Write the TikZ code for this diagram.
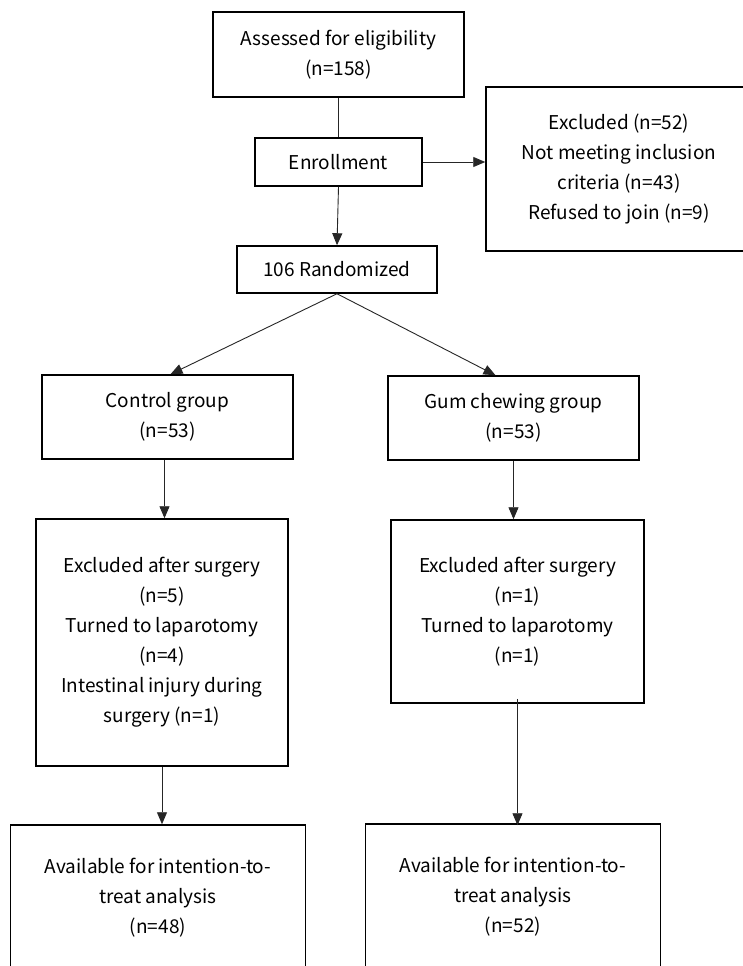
\documentclass[tikz,border=0pt]{standalone}
\usepackage{fontspec}
\setmainfont{Noto Sans CJK JP}
\usetikzlibrary{arrows.meta,calc}
\tikzset{
  box/.style={draw=black, line width=1.5pt, align=center, inner sep=2pt,
    font=\fontsize{19}{30}\selectfont},
  conn/.style={draw=black!85, line width=0.9pt},
  arr/.style={conn, -{Triangle[length=12pt,width=10pt]}}
}
\begin{document}
\begin{tikzpicture}[x=1pt,y=-1pt]
\useasboundingbox (0,0) rectangle (743,966);
\clip (0,0) rectangle (743,966);
\fill[white] (0,0) rectangle (743,966);

\node[box, minimum width=251pt, minimum height=85pt] (ass) at (338.5,54.5)
  {Assessed for eligibility\\(n=158)};
\node[box, minimum width=167pt, minimum height=48pt] (enr) at (338.5,162)
  {Enrollment};
\node[box, minimum width=266pt, minimum height=164pt] (exc) at (619,169)
  {Excluded (n=52)\\Not meeting inclusion\\criteria (n=43)\\Refused to join (n=9)};
\node[box, minimum width=200pt, minimum height=47pt] (rnd) at (337,269.5)
  {106 Randomized};

\node[box, minimum width=251pt, minimum height=84pt] (ctl) at (167.5,417)
  {Control group\\(n=53)};
\node[box, minimum width=251pt, minimum height=84pt] (gum) at (513.5,418)
  {Gum chewing group\\(n=53)};

\node[box, minimum width=252pt, minimum height=247pt] (exl) at (162,642.5)
  {Excluded after surgery\\(n=5)\\Turned to laparotomy\\(n=4)\\Intestinal injury during\\surgery (n=1)};
\node[box, minimum width=253pt, minimum height=183pt] (exr) at (517.5,611.5)
  {Excluded after surgery\\(n=1)\\Turned to laparotomy\\(n=1)};

\node[box, minimum width=295pt, minimum height=146pt] (avl) at (158,898)
  {Available for intention-to-\\treat analysis\\(n=48)};
\node[box, minimum width=295pt, minimum height=146pt] (avr) at (513,897)
  {Available for intention-to-\\treat analysis\\(n=52)};

\draw[conn] (ass.south) -- (enr.north);
\draw[arr] (enr.south) -- (rnd.north);
\draw[arr] (enr.east) -- (enr.east -| exc.west);
\draw[arr] (rnd.south) -- ([xshift=3pt]ctl.north);
\draw[arr] (rnd.south) -- ([xshift=-18pt]gum.north);
\draw[arr] ([xshift=-3pt]ctl.south) -- ([xshift=-3pt]ctl.south |- exl.north);
\draw[arr] (gum.south) -- (gum.south |- exr.north);
\draw[arr] (exl.south) -- (exl.south |- avl.north);
\draw[arr] ([yshift=5pt]exr.south) -- ([yshift=-2pt]exr.south |- avr.north);
\end{tikzpicture}
\end{document}
